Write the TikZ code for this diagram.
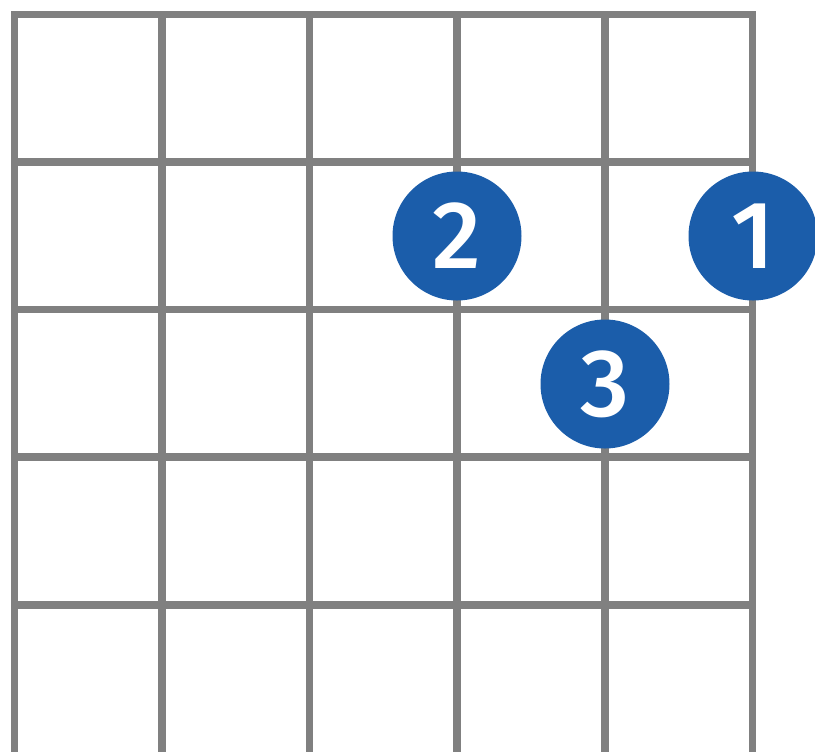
\documentclass[tikz,border=0pt]{standalone}
\usepackage{fontspec}
\setmainfont{Fira Sans}
\newfontfamily\dotfont{Fira Sans Medium}
\usetikzlibrary{positioning}
\definecolor{fretgray}{HTML}{808080}
\definecolor{dotblue}{HTML}{1B5DAA}
\tikzset{
  fretline/.style={draw=fretgray, line width=3.6pt},
  fingerdot/.style={circle, fill=dotblue, minimum size=64.5pt, inner sep=0pt, text=white, font=\fontsize{48}{48}\dotfont}
}
\begin{document}
\begin{tikzpicture}[x=0.5pt, y=-0.5pt]
        \useasboundingbox (0,0) rectangle (815,751);

        % cadre et cases
        \draw [fretline, line join=miter] (14.5,760) -- (14.5,14.5) -- (752.5,14.5) -- (752.5,760);
        \foreach \x in {162,309.5,457,605}
          \draw [fretline] (\x,14.5) -- (\x,760);
        \foreach \y in {162,309.5,457,605}
          \draw [fretline] (14.5,\y) -- (752.5,\y);

        % doigts
        \node (finger2) [fingerdot] at (457,236) {2};
        \node (finger1) [fingerdot] at (753,236) {1};
        \node (finger3) [fingerdot] at (605,384) {3};

    \end{tikzpicture}
\end{document}
